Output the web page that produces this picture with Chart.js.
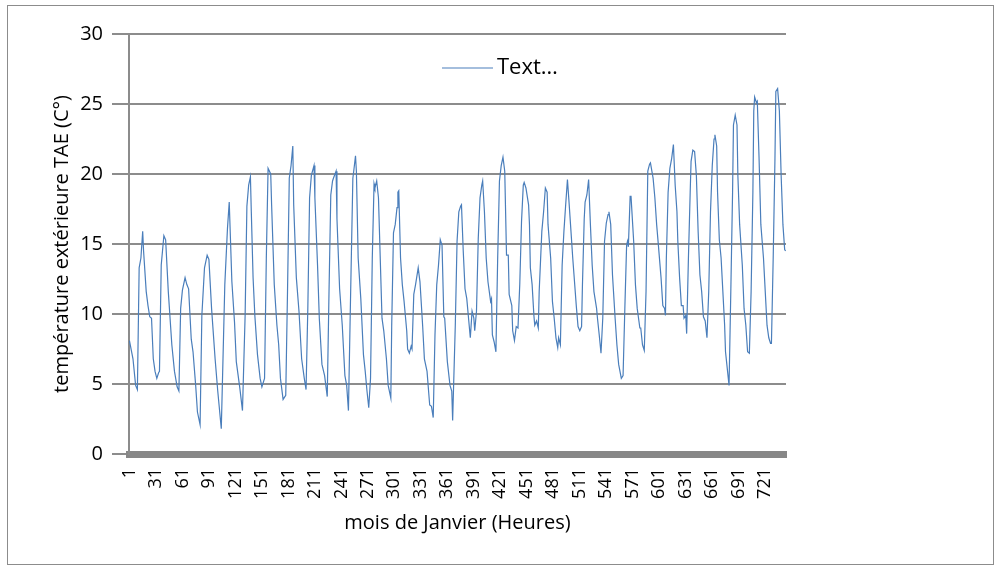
<!DOCTYPE html>
<html>
<head>
<meta charset="utf-8">
<script src="https://cdn.jsdelivr.net/npm/chart.js@4.4.0/dist/chart.umd.min.js"></script>
<style>
  html, body { margin: 0; padding: 0; background: #fff; }
  #wrap { width: 1001px; height: 569px; position: relative; }
</style>
</head>
<body>
<div id="wrap"><canvas id="graphTAE"></canvas></div>
<script>
// Heures du mois de janvier
const heures = [
  1,5,8,10,12,14,16,17,20,22,24,26,28,30,32,34,35,
  37,40,42,45,47,49,52,55,57,
  59,61,64,66,68,71,73,76,78,81,
  83,86,89,91,94,98,101,105,
  109,112,114,117,120,122,126,129,
  132,134,136,138,139,141,143,146,149,151,154,
  156,158,161,162,165,168,170,172,175,178,
  180,182,184,186,187,190,193,196,199,201,
  203,205,207,210,211,214,216,219,222,225,
  227,229,231,232,235,236,239,242,245,247,249,
  251,254,255,257,258,260,263,266,268,270,272,
  274,276,278,279,281,283,285,287,289,292,294,297,
  298,300,302,304,305,306,308,310,312,315,316,318,320,321,
  323,325,328,330,333,335,338,341,343,345,
  347,349,351,353,355,357,358,361,364,366,367,
  370,372,374,376,377,379,381,383,385,387,389,391,392,394,
  396,398,400,401,403,405,407,410,411,412,414,416,
  418,420,422,424,426,428,430,431,434,435,437,439,441,
  443,445,447,448,450,453,454,455,457,459,460,462,464,
  465,468,470,472,474,475,478,480,482,484,486,487,489,
  491,493,495,497,499,501,503,505,507,509,511,513,
  514,516,517,519,521,523,525,527,530,531,533,535,
  537,539,541,543,544,546,548,551,553,555,558,560,
  562,564,565,566,568,569,572,574,576,579,580,582,584,
  586,588,590,591,594,596,598,600,603,605,607,608,
  609,611,613,615,617,619,621,622,624,626,628,629,631,632,
  634,636,637,639,641,643,645,647,649,651,653,655,
  657,659,661,663,664,666,667,669,671,673,675,676,678,680,
  682,684,685,687,689,690,692,695,697,699,701,703,
  705,707,708,709,711,712,714,716,719,721,723,725,727,728,
  730,732,733,735,737,739,741,743,744
];

// Température extérieure TAE (°C)
const temperatures = [
  8.1,6.8,4.9,4.6,13.3,14.0,15.9,14.5,11.6,10.6,9.8,9.7,6.8,5.9,5.4,5.8,5.9,
  13.5,15.6,15.3,11.6,9.7,7.8,5.9,4.8,4.5,
  10.4,11.7,12.6,12.1,11.8,8.2,7.3,4.9,3.0,2.1,
  9.9,13.3,14.2,13.9,10.4,6.8,4.5,1.8,
  12.1,16.1,18.0,12.3,9.4,6.6,4.7,3.1,
  9.9,17.7,19.2,19.8,17.3,12.6,9.9,7.1,5.4,4.8,5.4,
  14.0,20.4,20.0,17.8,12.1,9.2,7.8,5.4,3.9,4.2,
  11.6,19.7,20.6,22.0,17.8,12.6,10.2,6.8,5.4,4.6,
  10.4,18.3,19.9,20.6,18.3,13.5,9.7,6.4,5.6,4.1,
  11.6,18.5,19.5,19.7,20.2,16.8,11.8,9.2,5.6,4.9,3.1,
  9.9,19.7,20.2,21.3,20.2,14.0,11.1,7.1,5.9,4.5,3.3,
  5.4,14.0,19.3,19.0,19.5,18.3,14.0,9.7,8.8,6.8,4.9,4.0,
  9.2,15.8,16.4,17.6,18.7,18.8,14.0,12.1,10.9,8.8,7.5,7.2,7.7,7.5,
  11.4,12.1,13.3,12.3,9.2,6.8,5.9,3.5,3.4,2.6,
  8.5,12.1,13.5,15.3,14.9,9.8,9.7,6.6,4.9,4.5,2.4,
  9.2,15.2,17.3,17.7,17.8,14.5,11.8,11.1,9.7,8.3,10.2,9.7,8.8,10.2,
  15.4,18.3,19.2,19.5,17.3,14.0,12.3,10.9,11.1,8.5,8.0,7.3,
  14.0,19.5,20.6,21.2,20.2,14.2,14.2,11.4,10.6,8.8,8.1,9.1,9.0,
  12.1,16.6,19.2,19.4,19.0,17.8,16.4,13.3,12.1,9.9,9.2,9.5,9.0,
  11.6,15.9,17.3,19.0,18.7,16.4,14.0,10.9,9.7,8.3,7.6,8.3,7.8,
  13.5,15.9,17.8,19.6,17.8,15.9,14.0,12.3,10.6,9.1,8.8,9.1,
  12.1,16.8,18.0,18.5,19.6,16.4,13.5,11.6,10.4,9.7,8.5,7.2,
  9.7,15.2,16.5,17.1,17.3,16.4,12.8,9.7,7.8,6.4,5.4,5.6,
  10.4,14.9,15.2,14.8,18.4,18.4,15.2,12.1,10.4,9.0,9.0,7.8,7.4,
  11.6,20.2,20.7,20.8,19.7,18.3,16.4,14.9,12.6,10.6,10.4,9.9,
  14.0,18.7,20.4,21.1,22.1,19.2,17.3,15.2,12.6,10.6,10.6,9.7,9.9,8.6,
  14.0,18.7,20.9,21.7,21.6,19.9,15.9,12.8,11.6,9.8,9.5,8.3,
  11.6,17.3,20.6,22.5,22.8,22.0,18.7,15.3,14.0,11.6,9.2,7.3,6.1,4.9,
  11.6,18.7,23.5,24.2,23.5,19.9,16.4,13.5,10.4,9.2,7.3,7.2,
  11.6,18.7,24.5,25.5,25.1,25.2,21.1,16.4,14.0,11.6,9.2,8.3,7.9,7.9,
  14.0,21.1,25.9,26.1,24.5,19.9,16.4,14.6,14.5
];

// Étiquettes de l'axe des heures (une toutes les 30 heures)
const etiquettesHeures = [1,31,61,91,121,151,181,211,241,271,301,331,361,391,421,451,481,511,541,571,601,631,661,691,721];
const nbHeures = 744;

const police = '"Open Sans", "Noto Sans", sans-serif';
const gris = '#8c8c8c';

// Cadre extérieur + légende dans la zone de tracé (comme dans Excel)
const cadreLegende = {
  id: 'cadreLegende',
  beforeDraw(chart) {
    const ctx = chart.ctx;
    ctx.save();
    ctx.fillStyle = '#fff';
    ctx.fillRect(0, 0, chart.width, chart.height);
    ctx.restore();
  },
  afterDraw(chart) {
    const ctx = chart.ctx, a = chart.chartArea;
    ctx.save();
    ctx.strokeStyle = gris;
    ctx.lineWidth = 1;
    ctx.strokeRect(7.5, 5.5, 986, 559);
    const y = a.top + 34;
    ctx.strokeStyle = '#4a7ebb';
    ctx.lineWidth = 1.2;
    ctx.beginPath();
    ctx.moveTo(a.left + 313, y);
    ctx.lineTo(a.left + 364, y);
    ctx.stroke();
    ctx.fillStyle = '#000';
    ctx.font = '22px ' + police;
    ctx.textBaseline = 'middle';
    ctx.fillText(chart.data.datasets[0].label, a.left + 368, y);
    ctx.restore();
  }
};

new Chart(document.getElementById('graphTAE'), {
  type: 'line',
  data: {
    datasets: [{
      label: 'Text…',
      data: heures.map((h, i) => ({ x: h, y: temperatures[i] })),
      borderColor: '#4a7ebb',
      borderWidth: 1.2,
      pointRadius: 0,
      tension: 0,
      fill: false
    }]
  },
  options: {
    responsive: true,
    maintainAspectRatio: false,
    animation: false,
    layout: { padding: { left: 20, top: 34, right: 215, bottom: 0 } },
    plugins: {
      legend: { display: false },
      tooltip: { enabled: false }
    },
    scales: {
      x: {
        type: 'linear',
        min: 0.5,
        max: nbHeures + 0.5,
        afterBuildTicks: scale => { scale.ticks = etiquettesHeures.map(v => ({ value: v })); },
        afterFit: scale => { scale.height = 115; },
        grid: { display: false, drawTicks: false },
        border: { display: true, color: '#878787', width: 7 },
        ticks: {
          autoSkip: false,
          minRotation: 90,
          maxRotation: 90,
          padding: 14,
          color: '#000',
          font: { family: police, size: 18 },
          callback: v => String(v)
        },
        title: {
          display: true,
          text: 'mois de Janvier (Heures)',
          color: '#000',
          font: { family: police, size: 20 },
          padding: { top: 0, bottom: 34 }
        }
      },
      y: {
        min: 0,
        max: 30,
        afterFit: scale => { scale.width = 109; },
        grid: { color: gris, lineWidth: 2, drawTicks: true, tickLength: 17 },
        border: { display: true, color: gris, width: 2 },
        ticks: {
          stepSize: 5,
          padding: 9,
          color: '#000',
          font: { family: police, size: 20 }
        },
        title: {
          display: true,
          text: 'température extérieure TAE (C°)',
          color: '#000',
          font: { family: police, size: 20 },
          padding: { top: 30, bottom: 0 }
        }
      }
    }
  },
  plugins: [cadreLegende]
});
</script>
</body>
</html>
